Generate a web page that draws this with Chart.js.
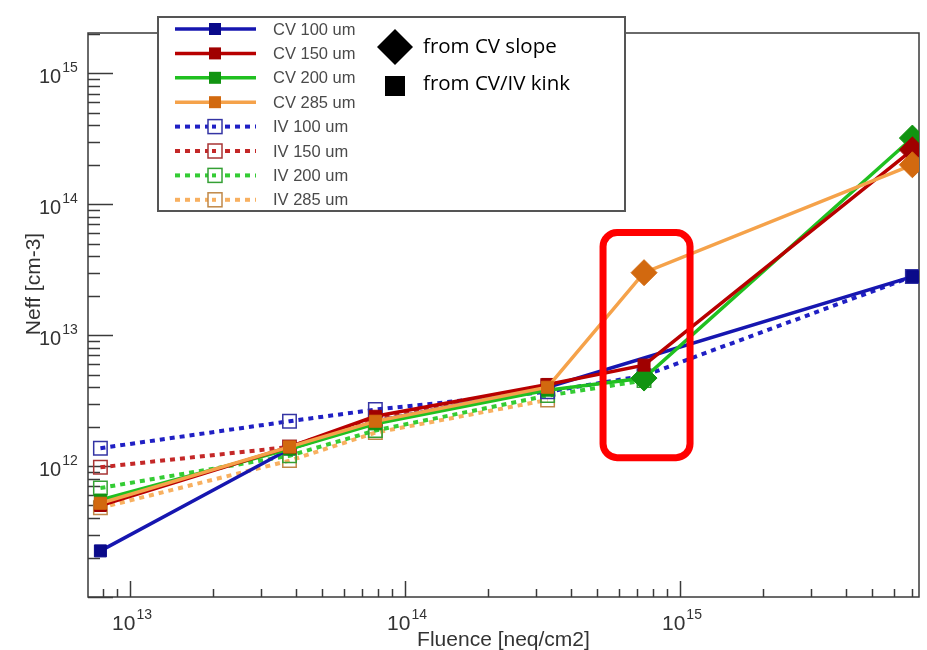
<!DOCTYPE html>
<html>
<head>
<meta charset="utf-8">
<script src="https://cdn.jsdelivr.net/npm/chart.js@4.4.0/dist/chart.umd.min.js"></script>
<style>
  body { margin: 0; background: #fff; }
  canvas { display: block; }
</style>
</head>
<body>
<canvas id="neffChart" width="927" height="650"></canvas>
<script>
// fluence points [neq/cm2]
const fluence = [7.8e12, 3.8e13, 7.8e13, 3.3e14, 7.4e14, 7.0e15];

// Neff [cm-3] (null = no point)
const cv100 = [2.25e11, 1.35e12, 2.2e12, 4.0e12, null, 2.8e13];
const cv150 = [5.0e11, 1.4e12, 2.4e12, 4.2e12, 5.9e12, 2.6e14];
const cv200 = [5.5e11, 1.35e12, 2.1e12, 3.8e12, 4.7e12, 3.2e14];
const cv285 = [5.2e11, 1.4e12, 2.2e12, 4.0e12, 3.0e13, 2.0e14];
const iv100 = [1.37e12, 2.2e12, 2.7e12, 3.7e12, 4.9e12, 2.8e13];
const iv150 = [0.98e12, 1.4e12, 2.3e12, 4.1e12, null, null];
const iv200 = [6.8e11, 1.2e12, 1.87e12, 3.45e12, 4.5e12, null];
const iv285 = [4.8e11, 1.1e12, 1.8e12, 3.2e12, null, null];

// how each CV point was obtained
const cv100Method = ["kink", "kink", "kink", "kink", "kink", "kink"];
const cv150Method = ["kink", "kink", "kink", "kink", "kink", "slope"];
const cv200Method = ["kink", "kink", "kink", "kink", "slope", "slope"];
const cv285Method = ["kink", "kink", "kink", "kink", "slope", "slope"];

const xTickExps = [13, 14, 15];
const yTickExps = [12, 13, 14, 15];
const methodLabels = ["from CV slope", "from CV/IV kink"];

const toPoints = (vals) => fluence.map((x, i) => ({ x: x, y: vals[i] }));

function cvSet(label, vals, methods, line, marker, order) {
  return {
    label: label,
    kind: "cv",
    markerColor: marker,
    data: toPoints(vals),
    borderColor: line,
    borderWidth: 3.5,
    spanGaps: true,
    order: order,
    pointStyle: (c) => (methods[c.dataIndex] === "slope" ? "rectRot" : "rect"),
    pointRadius: (c) => (methods[c.dataIndex] === "slope" ? 13 : 8.5),
    pointBackgroundColor: marker,
    pointBorderColor: marker,
    pointBorderWidth: 1,
  };
}

function ivSet(label, vals, line, marker, order) {
  return {
    label: label,
    kind: "iv",
    markerColor: marker,
    data: toPoints(vals),
    borderColor: line,
    borderWidth: 4,
    borderDash: [5, 5],
    spanGaps: true,
    order: order,
    pointStyle: "rect",
    pointRadius: 9.5,
    pointBackgroundColor: "rgba(255,255,255,0)",
    pointBorderColor: marker,
    pointBorderWidth: 1.5,
  };
}

const datasets = [
  cvSet("CV 100 um", cv100, cv100Method, "#1616b0", "#0a0a8a", 3),
  cvSet("CV 150 um", cv150, cv150Method, "#b80000", "#a00000", 1),
  cvSet("CV 200 um", cv200, cv200Method, "#20c020", "#119411", 2),
  cvSet("CV 285 um", cv285, cv285Method, "#f5a24a", "#d2690f", 0),
  ivSet("IV 100 um", iv100, "#2020c4", "#3434a4", 4),
  ivSet("IV 150 um", iv150, "#c42828", "#a83434", 5),
  ivSet("IV 200 um", iv200, "#34cc34", "#34a034", 6),
  ivSet("IV 285 um", iv285, "#f8b060", "#c08848", 7),
];

function drawPow(ctx, exp, x, y, baseFont, expFont) {
  ctx.font = baseFont;
  ctx.textAlign = "left";
  ctx.textBaseline = "alphabetic";
  ctx.fillText("10", x, y);
  const w = ctx.measureText("10").width;
  ctx.font = expFont;
  ctx.fillText(String(exp), x + w + 1, y - 11);
  return w;
}

// ROOT style frame, inward ticks and 10^n labels
const framePlugin = {
  id: "frame",
  beforeDatasetsDraw(chart) {
    const { ctx, chartArea: a, scales } = chart;
    const xs = scales.x, ys = scales.y;
    ctx.save();
    ctx.strokeStyle = "#3a3a3a";
    ctx.lineWidth = 1.5;
    ctx.strokeRect(a.left, a.top, a.right - a.left, a.bottom - a.top);

    // y ticks
    for (let e = 10; e <= 16; e++) {
      for (let m = 1; m <= 9; m++) {
        const v = m * Math.pow(10, e);
        if (v < ys.min * 0.999 || v > ys.max) continue;
        const py = Math.round(ys.getPixelForValue(v)) + 0.5;
        ctx.beginPath();
        ctx.moveTo(a.left, py);
        ctx.lineTo(a.left + (m === 1 ? 25 : 12), py);
        ctx.stroke();
      }
    }
    // x ticks
    for (let e = 12; e <= 16; e++) {
      for (let m = 1; m <= 9; m++) {
        const v = m * Math.pow(10, e);
        if (v < xs.min || v > xs.max) continue;
        const px = Math.round(xs.getPixelForValue(v)) + 0.5;
        ctx.beginPath();
        ctx.moveTo(px, a.bottom);
        ctx.lineTo(px, a.bottom - (m === 1 ? 16 : 8));
        ctx.stroke();
      }
    }

    ctx.fillStyle = "#333";
    yTickExps.forEach((e) => {
      const py = ys.getPixelForValue(Math.pow(10, e));
      drawPow(ctx, e, 39, py + 10, "20px 'Liberation Sans'", "14px 'Liberation Sans'");
    });
    xTickExps.forEach((e) => {
      const px = xs.getPixelForValue(Math.pow(10, e));
      drawPow(ctx, e, px - 18, a.bottom + 33, "21px 'Liberation Sans'", "14px 'Liberation Sans'");
    });

    // axis titles
    ctx.font = "21px 'Liberation Sans'";
    ctx.textAlign = "center";
    ctx.textBaseline = "alphabetic";
    ctx.fillText("Fluence [neq/cm2]", (a.left + a.right) / 2, 646);
    ctx.save();
    ctx.translate(40, 284);
    ctx.rotate(-Math.PI / 2);
    ctx.fillText("Neff [cm-3]", 0, 0);
    ctx.restore();
    ctx.restore();
  },
};

// legend box + marker explanation + red highlight box
const overlayPlugin = {
  id: "overlay",
  afterDraw(chart) {
    const { ctx, scales } = chart;
    ctx.save();

    // red highlight around the 5th fluence point
    const cx = scales.x.getPixelForValue(fluence[4]);
    const top = scales.y.getPixelForValue(6.4e13);
    const bot = scales.y.getPixelForValue(1.1e12);
    ctx.strokeStyle = "#ff0000";
    ctx.lineWidth = 7;
    ctx.beginPath();
    ctx.roundRect(cx - 41, top + 3, 87, bot - top - 6, 14);
    ctx.stroke();

    // legend box
    const bx = 158, by = 17, bw = 467, bh = 194;
    ctx.fillStyle = "#fff";
    ctx.fillRect(bx, by, bw, bh);
    ctx.strokeStyle = "#555";
    ctx.lineWidth = 2;
    ctx.strokeRect(bx, by, bw, bh);

    chart.data.datasets.forEach((ds, i) => {
      const y = 29 + i * 24.4;
      ctx.strokeStyle = ds.borderColor;
      ctx.lineWidth = ds.kind === "cv" ? 3.5 : 4;
      ctx.setLineDash(ds.kind === "cv" ? [] : [5, 5]);
      ctx.beginPath();
      ctx.moveTo(175, y);
      ctx.lineTo(256, y);
      ctx.stroke();
      ctx.setLineDash([]);
      if (ds.kind === "cv") {
        ctx.fillStyle = ds.markerColor;
        ctx.fillRect(209, y - 6, 12, 12);
      } else {
        ctx.strokeStyle = ds.markerColor;
        ctx.lineWidth = 1.5;
        ctx.fillStyle = "#fff";
        ctx.fillRect(208, y - 7, 14, 14);
        ctx.strokeRect(208, y - 7, 14, 14);
        ctx.fillStyle = ds.borderColor;
        ctx.fillRect(212, y - 2, 4, 4);
      }
      ctx.fillStyle = "#4a4a4a";
      ctx.font = "16.5px 'Liberation Sans'";
      ctx.textAlign = "left";
      ctx.textBaseline = "middle";
      ctx.fillText(ds.label, 273, y + 1);
    });

    // marker explanation
    ctx.fillStyle = "#000";
    ctx.beginPath();
    ctx.moveTo(395, 29);
    ctx.lineTo(413, 47);
    ctx.lineTo(395, 65);
    ctx.lineTo(377, 47);
    ctx.closePath();
    ctx.fill();
    ctx.fillRect(385, 76, 20, 20);
    ctx.font = "20.5px 'Open Sans'";
    ctx.textAlign = "left";
    ctx.textBaseline = "middle";
    ctx.fillText(methodLabels[0], 423, 47);
    ctx.fillText(methodLabels[1], 423, 84);
    ctx.restore();
  },
};

new Chart(document.getElementById("neffChart"), {
  type: "line",
  data: { datasets: datasets },
  options: {
    responsive: false,
    animation: false,
    devicePixelRatio: 1,
    layout: { autoPadding: false, padding: { left: 88, right: 8, top: 33, bottom: 53 } },
    plugins: { legend: { display: false }, tooltip: { enabled: false } },
    scales: {
      x: { type: "logarithmic", min: 7.03e12, max: 7.4e15, display: false },
      y: { type: "logarithmic", min: 1e11, max: 2.03e15, display: false },
    },
  },
  plugins: [framePlugin, overlayPlugin],
});
</script>
</body>
</html>
